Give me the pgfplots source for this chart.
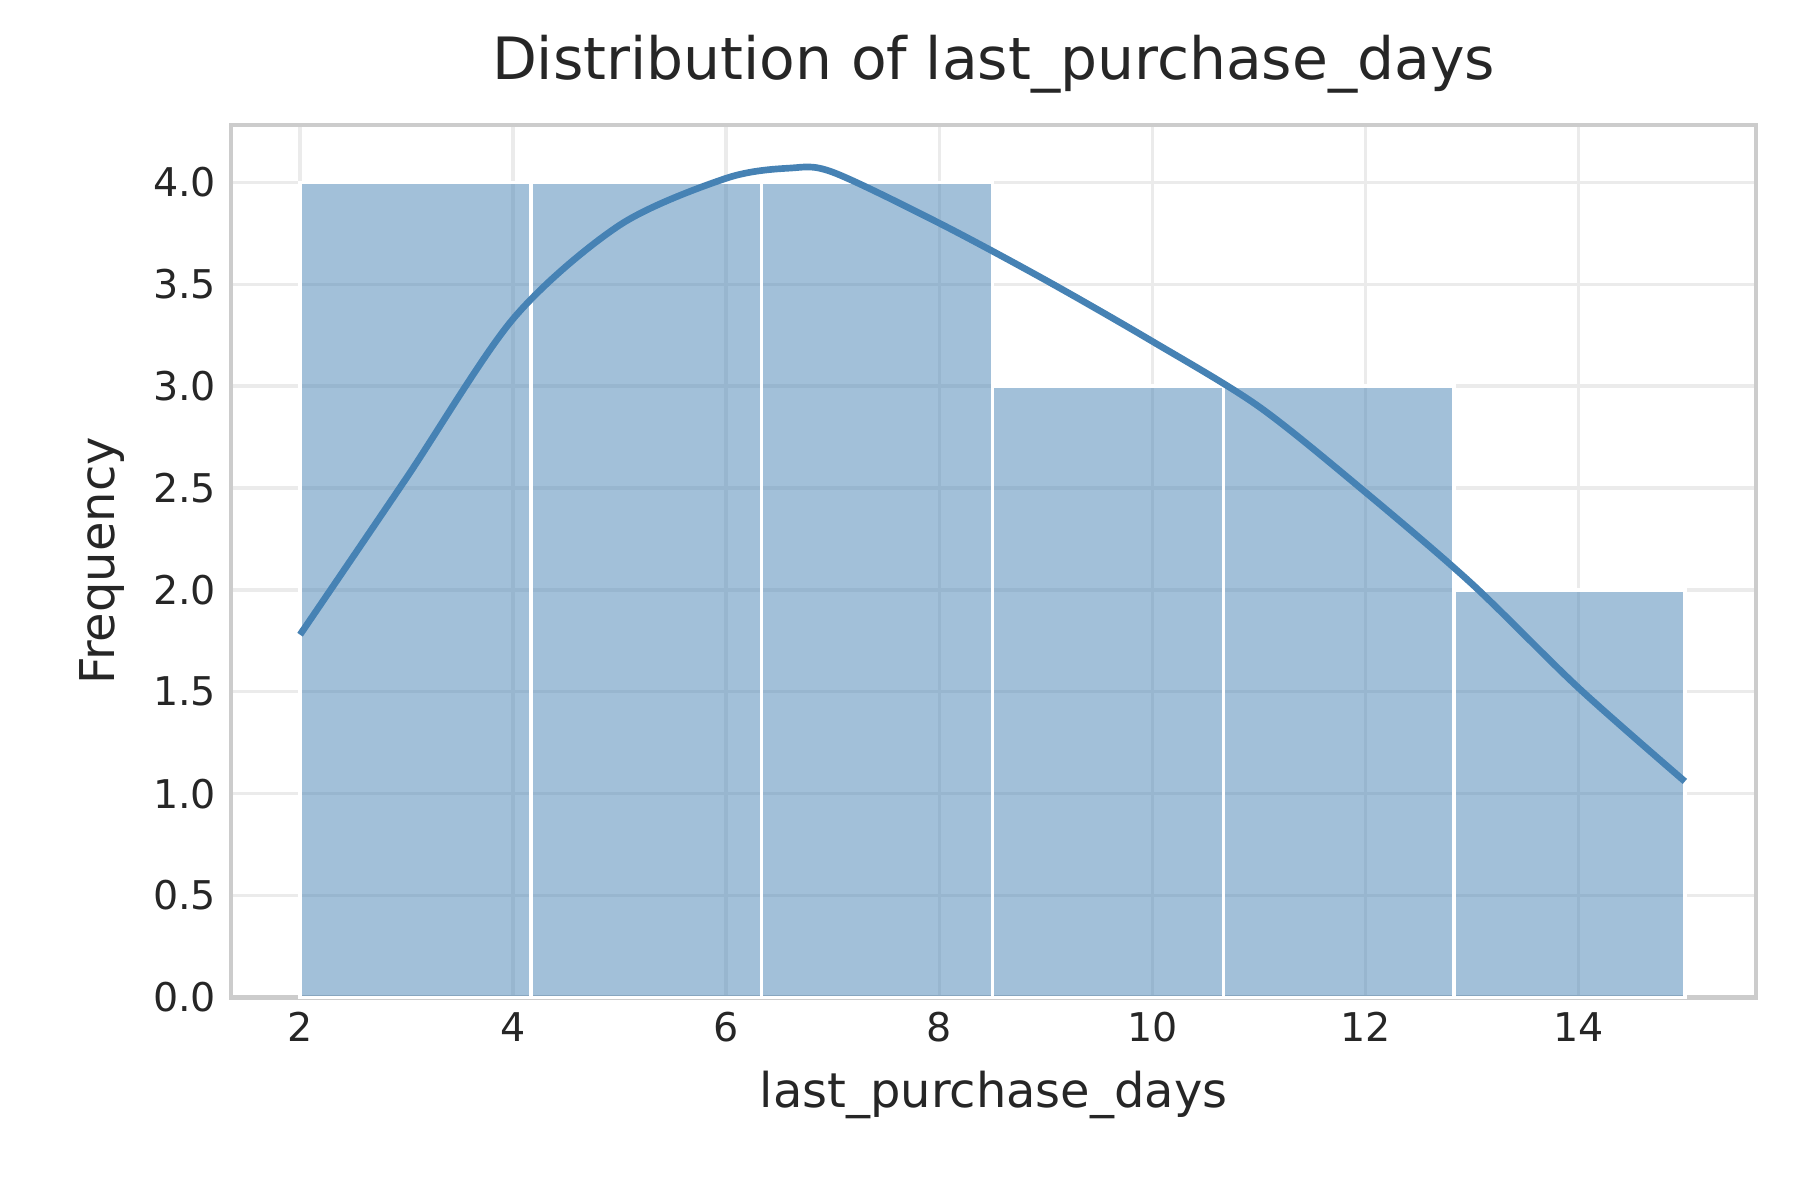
\documentclass[border=0pt]{standalone}
\usepackage{pgfplots}
\pgfplotsset{compat=1.18}
\usepackage{fontspec}
\setmainfont{DejaVu Sans}
\definecolor{steel}{RGB}{70,130,180}
\definecolor{gridc}{RGB}{235,235,235}
\definecolor{spine}{RGB}{204,204,204}
\definecolor{txt}{RGB}{38,38,38}
\begin{document}
\begin{tikzpicture}
\begin{axis}[
  scale only axis, width=366pt, height=209.4pt,
  xmin=1.35, xmax=15.67, ymin=0, ymax=4.283,
  xtick={2,4,...,14}, ytick={0,0.5,...,4},
  yticklabel style={/pgf/number format/.cd,fixed,fixed zerofill,precision=1},
  /pgf/number format/assume math mode=true,
  ticklabel style={font=\fontsize{9.5}{11}\selectfont, text=txt},
  major tick length=0pt,
  grid=major, major grid style={gridc, line width=0.8pt},
  axis line style={spine, line width=1pt},
  title={Distribution of last\_purchase\_days},
  title style={font=\fontsize{14}{16}\selectfont, text=txt, yshift=-2pt},
  xlabel={last\_purchase\_days}, ylabel={Frequency},
  label style={font=\fontsize{11.5}{13}\selectfont, text=txt},
  clip=false,
]
\addplot[ybar interval, fill=steel, fill opacity=0.5, draw=white, line width=0.8pt]
 coordinates {(2,4) (4.1667,4) (6.3333,4) (8.5,3) (10.6667,3) (12.8333,2) (15,2)};
\addplot[steel, line width=1.6pt, smooth] coordinates {
 (2,1.78) (3,2.55) (4,3.33) (5,3.79) (6,4.02) (6.6,4.07) (7,4.05) (8,3.8)
 (9,3.52) (10,3.22) (11,2.9) (12,2.48) (13,2.03) (14,1.52) (15,1.06)};
\coordinate (bl) at (rel axis cs:-0.1513,-0.2328);
\coordinate (tr) at (rel axis cs:1.0287,1.1429);
\end{axis}
\path[use as bounding box] (bl) rectangle (tr);
\end{tikzpicture}
\end{document}
